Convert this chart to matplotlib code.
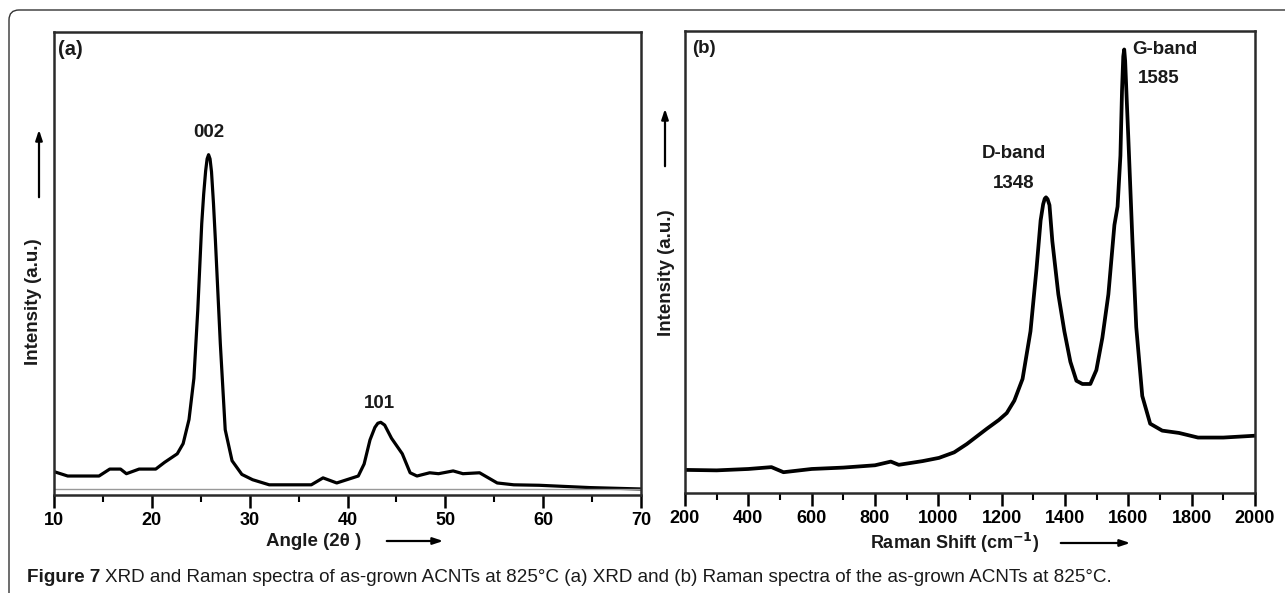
import numpy as np
import matplotlib
matplotlib.use("Agg")
import matplotlib.pyplot as plt
from matplotlib.patches import FancyBboxPatch
from matplotlib.transforms import IdentityTransform

plt.rcParams['font.family'] = ['Liberation Sans', 'DejaVu Sans']

# XRD pattern (panel a), intensity in arbitrary units
xrd_angle = [10, 11.4, 13, 14.6, 15.7, 16.8, 17.4, 18.7, 20.4, 21.3, 22.6, 23.2, 23.8, 24.3,
             24.7, 25.1, 25.3, 25.5, 25.65, 25.8, 25.95, 26.1, 26.3, 26.5, 27.0, 27.5, 28.2,
             29.2, 30.3, 32.0, 36.3, 37.5, 38.9, 41.1, 41.7, 42.3, 42.8, 43.1, 43.4, 43.8,
             44.5, 45.6, 46.4, 47.1, 48.4, 49.3, 50.8, 51.8, 53.5, 54.4, 55.3, 57.0, 59.6,
             64.8, 70]
xrd_int = [5.05, 4.1, 4.1, 4.1, 5.6, 5.6, 4.6, 5.6, 5.6, 7.05, 8.9, 11.1, 16.3, 25.2,
           40.1, 58.6, 65.0, 70.0, 72.6, 73.5, 72.6, 69.8, 63.0, 54.9, 32.7, 14.1, 7.4,
           4.45, 3.3, 2.2, 2.2, 3.7, 2.6, 4.1, 6.7, 11.9, 14.6, 15.5, 15.7, 15.1,
           12.25, 8.9, 4.8, 4.1, 4.8, 4.6, 5.2, 4.6, 4.8, 3.7, 2.6, 2.2, 2.1,
           1.6, 1.3]

# Raman spectrum (panel b)
raman_shift = [200, 300, 400, 473, 511, 600, 700, 800, 850, 875, 950, 1002, 1050, 1090,
               1153, 1191, 1216, 1240, 1266, 1291, 1310, 1323, 1331, 1336, 1340, 1345,
               1351, 1360, 1379, 1398, 1417, 1436, 1455, 1480, 1499, 1518, 1537, 1556,
               1566, 1575, 1580, 1584, 1587, 1590, 1595, 1600, 1613, 1625, 1644, 1669,
               1707, 1760, 1820, 1900, 1950, 2000]
raman_int = [5.0, 4.9, 5.2, 5.6, 4.5, 5.2, 5.5, 6.0, 6.8, 6.1, 6.9, 7.6, 8.8, 10.6,
             13.9, 15.8, 17.3, 20.0, 24.7, 35.0, 48.5, 59.0, 62.5, 63.7, 64.0, 63.6,
             62.3, 54.5, 43.0, 35.0, 28.4, 24.3, 23.6, 23.6, 26.6, 33.6, 43.0, 58.0,
             62.0, 73.0, 87.0, 94.5, 96.0, 93.5, 85.0, 76.8, 54.5, 35.9, 21.0, 15.0,
             13.5, 13.0, 12.0, 12.0, 12.2, 12.4]

xrd_ticks = [10, 20, 30, 40, 50, 60, 70]
raman_ticks = list(range(200, 2001, 200))

W, H = 1285, 593
fig = plt.figure(figsize=(W / 100, H / 100), dpi=100)

# outer frame with rounded top-left corner
frame = FancyBboxPatch((9, -60), 1500, H - 10 + 60, boxstyle="round,pad=0,rounding_size=10",
                       transform=IdentityTransform(), fill=False, lw=1.0, ec='#333333')
fig.patches.append(frame)

axa = fig.add_axes([54 / W, 1 - 495 / H, (641 - 54) / W, (495 - 32) / H])
axb = fig.add_axes([685 / W, 1 - 493 / H, (1255 - 685) / W, (493 - 31) / H])

axa.plot(xrd_angle, xrd_int, color='black', lw=2.3, solid_joinstyle='round')
axb.plot(raman_shift, raman_int, color='black', lw=2.7, solid_joinstyle='round')

axa.set_xlim(10, 70)
axb.set_xlim(200, 2000)
axa.set_ylim(0, 100)
axb.set_ylim(0, 100)
axa.set_xticks(xrd_ticks)
axa.set_xticks(np.arange(15, 70, 10), minor=True)
axb.set_xticks(raman_ticks)
axb.set_xticks(np.arange(300, 2000, 200), minor=True)

for ax in (axa, axb):
    ax.set_yticks([])
    for s in ax.spines.values():
        s.set_linewidth(1.8)
        s.set_color('#2a2a2a')
    ax.tick_params(axis='x', which='major', direction='out', length=9, width=1.8,
                   pad=3, labelsize=13)
    ax.tick_params(axis='x', which='minor', direction='out', length=5, width=1.5)
    for lab in ax.get_xticklabels():
        lab.set_fontweight('bold')

axa.axhline(1.3, color='0.6', lw=1.0)

bold = dict(fontweight='bold', color='#1a1a1a')
axa.text(0.007, 0.962, '(a)', transform=axa.transAxes, fontsize=14.5, va='center', **bold)
axb.text(0.012, 0.962, '(b)', transform=axb.transAxes, fontsize=13.5, va='center', **bold)

axa.text(25.8, 78.3, '002', ha='center', va='center', fontsize=13.5, **bold)
axa.text(43.3, 19.7, '101', ha='center', va='center', fontsize=13.5, **bold)
axb.text(1612, 96, 'G-band', ha='left', va='center', fontsize=13.5, **bold)
axb.text(1629, 89.7, '1585', ha='left', va='center', fontsize=13.5, **bold)
axb.text(1238, 73.5, 'D-band', ha='center', va='center', fontsize=13.5, **bold)
axb.text(1238, 67, '1348', ha='center', va='center', fontsize=13.5, **bold)

# axis labels with direction arrows
fig.text(314 / W, 1 - 541 / H, 'Angle (2θ )', ha='center', va='center', fontsize=13.5, **bold)
fig.text(955 / W, 1 - 543 / H, 'Raman Shift (cm$^{\\mathbf{-1}}$)', ha='center', va='center',
         fontsize=13, **bold)
fig.text(33 / W, 1 - 302 / H, 'Intensity (a.u.)', ha='center', va='center', rotation=90,
         fontsize=13.5, **bold)
fig.text(666 / W, 1 - 273 / H, 'Intensity (a.u.)', ha='center', va='center', rotation=90,
         fontsize=13.5, **bold)

arrow = dict(arrowstyle='-|>,head_length=0.6,head_width=0.2', color='black', lw=1.6)
fig.add_artist(plt.Annotation('', xy=(446 / W, 1 - 541 / H), xytext=(384 / W, 1 - 541 / H),
                              xycoords='figure fraction', arrowprops=arrow))
fig.add_artist(plt.Annotation('', xy=(1133 / W, 1 - 543 / H), xytext=(1058 / W, 1 - 543 / H),
                              xycoords='figure fraction', arrowprops=arrow))
fig.add_artist(plt.Annotation('', xy=(39 / W, 1 - 127 / H), xytext=(39 / W, 1 - 200 / H),
                              xycoords='figure fraction', arrowprops=arrow))
fig.add_artist(plt.Annotation('', xy=(665 / W, 1 - 106 / H), xytext=(665 / W, 1 - 169 / H),
                              xycoords='figure fraction', arrowprops=arrow))

# caption
t1 = fig.text(27 / W, 1 - 577 / H, 'Figure 7', ha='left', va='center', fontsize=13.6,
              fontweight='bold', color='#1a1a1a')
fig.canvas.draw()
r = fig.canvas.get_renderer()
bb = t1.get_window_extent(r)
fig.text((bb.x1 + 5) / W, 1 - 577 / H,
         'XRD and Raman spectra of as-grown ACNTs at 825°C (a) XRD and (b) Raman spectra of the as-grown ACNTs at 825°C.',
         ha='left', va='center', fontsize=13.6, color='#1a1a1a')

fig.savefig('out.png', dpi=100)
